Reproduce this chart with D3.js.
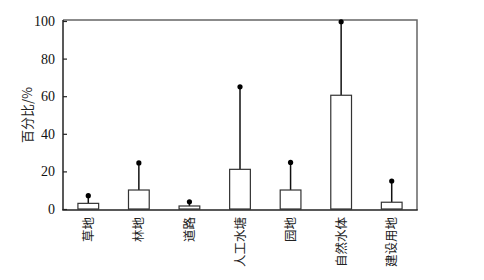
<!DOCTYPE html>
<html>
<head>
<meta charset="utf-8">
<script src="https://cdn.jsdelivr.net/npm/d3@7"></script>
<style>
    body { margin: 0; background: #fff; }
    svg { display: block; }
    .ytick text { font-family: "Liberation Serif", "Times New Roman", serif; }
</style>
</head>
<body>
<div id="chart"></div>
<script>
// land use categories
var categories = ["草地", "林地", "道路", "人工水塘", "园地", "自然水体", "建设用地"];
// mean percentage and upper error value
var means = [3.0, 10.1, 1.6, 21.1, 10.1, 60.5, 3.6];
var uppers = [7.1, 24.5, 3.8, 65.0, 24.8, 99.6, 14.9];
var yTicks = [0, 20, 40, 60, 80, 100];

var w = 484;
var h = 280;
var margin = { top: 21, right: 67, bottom: 71, left: 63 };

var svg = d3.select("#chart")
    .append("svg")
    .attr("width", w)
    .attr("height", h);

var x = d3.scaleBand()
    .domain(categories)
    .range([margin.left, w - margin.right])
    .paddingInner(0.59)
    .paddingOuter(0.295);

var y = d3.scaleLinear()
    .domain([0, 100])
    .range([h - margin.bottom, margin.top]);

var plotBottom = h - margin.bottom;
var plotTop = margin.top - 1;

// top and right frame lines (lighter)
svg.append("path")
    .attr("d", "M" + margin.left + "," + plotTop + "H" + (w - margin.right) + "V" + (plotBottom + 1))
    .attr("fill", "none")
    .attr("stroke", "#666")
    .attr("stroke-width", 1.5);

// error lines
svg.selectAll(".err")
    .data(categories)
    .enter()
    .append("line")
    .attr("x1", function (d) { return x(d) + x.bandwidth() / 2; })
    .attr("x2", function (d) { return x(d) + x.bandwidth() / 2; })
    .attr("y1", function (d, i) { return y(means[i]); })
    .attr("y2", function (d, i) { return y(uppers[i]); })
    .attr("stroke", "#111")
    .attr("stroke-width", 1.5);

svg.selectAll(".dot")
    .data(categories)
    .enter()
    .append("circle")
    .attr("cx", function (d) { return x(d) + x.bandwidth() / 2; })
    .attr("cy", function (d, i) { return y(uppers[i]); })
    .attr("r", 2.6)
    .attr("fill", "#000");

// bars
svg.selectAll(".bar")
    .data(categories)
    .enter()
    .append("rect")
    .attr("x", function (d) { return x(d); })
    .attr("y", function (d, i) { return y(means[i]); })
    .attr("width", x.bandwidth())
    .attr("height", function (d, i) { return plotBottom - y(means[i]); })
    .attr("fill", "#fff")
    .attr("stroke", "#333")
    .attr("stroke-width", 1.2);

// y axis with inward ticks
var yAxis = svg.append("g")
    .attr("class", "ytick")
    .attr("transform", "translate(" + margin.left + ",0)")
    .call(d3.axisLeft(y).tickValues(yTicks).tickSizeInner(-4).tickSizeOuter(0).tickPadding(8));
yAxis.attr("font-family", null);
yAxis.select(".domain").attr("stroke", "#222").attr("stroke-width", 1.5)
    .attr("d", "M0," + plotTop + "V" + (plotBottom + 1));
yAxis.selectAll("line").attr("stroke", "#222").attr("stroke-width", 1.2);
yAxis.selectAll("text")
    .style("font-family", "'Liberation Serif', 'Times New Roman', serif")
    .style("font-size", "14px")
    .attr("fill", "#111");

// x axis line
svg.append("line")
    .attr("x1", margin.left - 0.75)
    .attr("x2", w - margin.right + 0.75)
    .attr("y1", plotBottom + 1)
    .attr("y2", plotBottom + 1)
    .attr("stroke", "#222")
    .attr("stroke-width", 1.5);

// x labels, rotated
svg.selectAll(".xlab")
    .data(categories)
    .enter()
    .append("text")
    .attr("transform", function (d) {
        return "translate(" + (x(d) + x.bandwidth() / 2 + 4.5) + "," + (plotBottom + 8) + ") rotate(-90)";
    })
    .attr("text-anchor", "end")
    .attr("font-family", "'Noto Sans CJK SC', sans-serif")
    .attr("font-size", 12.5)
    .attr("fill", "#222")
    .text(function (d) { return d; });

// y label
svg.append("text")
    .attr("transform", "translate(" + 32 + "," + ((margin.top + plotBottom) / 2) + ") rotate(-90)")
    .attr("text-anchor", "middle")
    .attr("font-family", "'Noto Sans CJK SC', sans-serif")
    .attr("font-size", 13)
    .attr("fill", "#222")
    .text("百分比/%");
</script>
</body>
</html>
